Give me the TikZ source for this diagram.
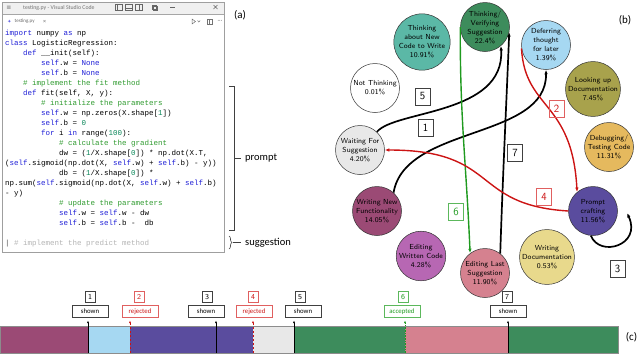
\documentclass[tikz,border=0pt]{standalone}
\usepackage{fontspec}
\newfontfamily\codefont{Liberation Mono}
\newfontfamily\calfont{Carlito}
\newfontfamily\symfont{DejaVu Sans}
\usetikzlibrary{arrows.meta,decorations.pathreplacing}
\definecolor{kwblue}{HTML}{1F1FD6}
\definecolor{cmgreen}{HTML}{2E9A2E}
\definecolor{numteal}{HTML}{098658}
\definecolor{sugg}{HTML}{B4B4B4}
\definecolor{cTNC}{HTML}{5BB8A6}
\definecolor{cTVS}{HTML}{3D8C5C}
\definecolor{cDFT}{HTML}{A6D8F2}
\definecolor{cLUD}{HTML}{A8A24C}
\definecolor{cWFS}{HTML}{E8E8E8}
\definecolor{cDTC}{HTML}{E5B95E}
\definecolor{cWNF}{HTML}{9B4A75}
\definecolor{cPC}{HTML}{5A4C9E}
\definecolor{cEWC}{HTML}{B767B3}
\definecolor{cELS}{HTML}{D5818F}
\definecolor{cWD}{HTML}{E8D98C}
\definecolor{rline}{HTML}{CC1414}
\definecolor{gline}{HTML}{1F9A1F}
\definecolor{rbox}{HTML}{E06060}
\definecolor{gbox}{HTML}{5CB85C}
\newcommand\kwd[1]{\textcolor{kwblue}{#1}}
\newcommand\cmt[1]{\textcolor{cmgreen}{#1}}
\newcommand\numc[1]{\textcolor{numteal}{#1}}
\begin{document}
\begin{tikzpicture}[x=1pt,y=-1pt,
  state/.style={circle,draw=black!80,line width=0.5pt,minimum size=49pt,inner sep=0pt,align=center,
    font=\sffamily\fontsize{7.3}{9}\selectfont},
  codeline/.style={anchor=base west,inner sep=0pt,font=\codefont\fontsize{7.5}{9}\selectfont},
  numbox/.style={draw=black!75,line width=0.7pt,minimum width=15pt,minimum height=17pt,inner sep=0pt,
    font=\sffamily\fontsize{11}{11}\selectfont},
  rnumbox/.style={numbox,draw=rbox,text=rline},
  gnumbox/.style={numbox,draw=gbox,text=gline},
  lblbox/.style={draw=black!75,line width=0.6pt,minimum width=36pt,minimum height=12pt,inner sep=0pt,
    font=\calfont\fontsize{6.8}{6.8}\selectfont},
  rlblbox/.style={lblbox,draw=rbox,text=rline},
  glblbox/.style={lblbox,draw=gbox,text=gline},
  snum/.style={draw=black!75,line width=0.6pt,minimum width=10pt,minimum height=11pt,inner sep=0pt,
    font=\sffamily\fontsize{7.5}{7.5}\selectfont},
  rsnum/.style={snum,draw=rbox,text=rline},
  gsnum/.style={snum,draw=gbox,text=gline},
  barseg/.style={draw=black!45,line width=0.4pt},
  blk/.style={line width=1.7pt,-{Latex[length=4.5pt,width=3.5pt]}},
  red/.style={rline,line width=1.4pt,-{Latex[length=4.5pt,width=3.5pt]}},
  grn/.style={gline,line width=1.4pt,-{Latex[length=4.5pt,width=3.5pt]}},
  tick/.style={-{Latex[length=2.5pt,width=2pt]}},
  lab/.style={font=\calfont\fontsize{11}{11}\selectfont,inner sep=0pt}
]
\useasboundingbox (0,0) rectangle (640,354);

% ---------- code window ----------
\fill[gray!12] (2,2) rectangle (224,14);
\draw[gray!70,line width=0.4pt] (2,14) -- (224,14);
\draw[gray!75,line width=0.8pt] (2,2) rectangle (224,252);
\node[inner sep=0pt,font=\symfont\fontsize{6}{6}\selectfont,text=black!60] (menu) at (9,7.5) {≡};
\node[anchor=west,inner sep=0pt,font=\calfont\fontsize{5.8}{6}\selectfont,text=black!55] (title) at (23,7.5) {testing.py - Visual Studio Code};
\begin{scope}[black!60,line width=0.5pt]
\draw (115,4.5) rectangle (122,10.5); \draw (117.5,4.5) -- (117.5,10.5);
\draw (125,4.5) rectangle (132,10.5); \draw (125,8.3) -- (132,8.3);
\draw (135,4.5) rectangle (142,10.5); \draw (139.5,4.5) -- (139.5,10.5);
\draw (152,5) rectangle (156,9); \draw (153.5,6.5) rectangle (157.5,10.5);
\draw (170,7.5) -- (175,7.5);
\draw (213.5,5) -- (217.5,9) (213.5,9) -- (217.5,5);
\end{scope}
\node[inner sep=0pt,font=\symfont\fontsize{5}{5}\selectfont,text=kwblue!70] (tabicon) at (9.5,21.5) {✦};
\node[anchor=west,inner sep=0pt,font=\calfont\fontsize{5}{5}\selectfont,text=black!60] (tabname) at (14.5,21.5) {testing.py};
\node[inner sep=0pt,font=\calfont\fontsize{6}{6}\selectfont,text=black!60] (tabx) at (44.5,21.5) {×};
\begin{scope}[black!55,line width=0.5pt]
\draw (192,19) -- (195.5,21.5) -- (192,24) -- cycle;
\draw (197.5,20.5) -- (198.8,22) -- (200.1,20.5);
\draw (207,19) rectangle (212,24); \draw (209.5,19) -- (209.5,24);
\end{scope}
\node[inner sep=0pt,font=\calfont\fontsize{6}{6}\selectfont,text=black!55] (dots) at (220,21) {···};

\node[codeline] (c0) at (5,35) {\kwd{import} numpy \kwd{as} np};
\node[codeline] (c1) at (5,45) {\kwd{class} LogisticRegression:};
\node[codeline] (c2) at (23,55) {\kwd{def} \_\_init(self):};
\node[codeline] (c3) at (41,65) {\kwd{self}.w = \kwd{None}};
\node[codeline] (c4) at (41,75) {\kwd{self}.b = \kwd{None}};
\node[codeline] (c5) at (23,85) {\cmt{\# implement the fit method}};
\node[codeline] (c6) at (23,95) {\kwd{def} fit(self, X, y):};
\node[codeline] (c7) at (41,105) {\cmt{\# initialize the parameters}};
\node[codeline] (c8) at (41,115) {\kwd{self}.w = np.zeros(X.shape[\numc{1}])};
\node[codeline] (c9) at (41,125) {\kwd{self}.b = \numc{0}};
\node[codeline] (c10) at (41,135) {\kwd{for} i \kwd{in} range(\numc{100}):};
\node[codeline] (c11) at (59,145) {\cmt{\# calculate the gradient}};
\node[codeline] (c12) at (59,155) {dw = (\numc{1}/X.shape[\numc{0}]) * np.dot(X.T,};
\node[codeline] (c13) at (5,165) {(\kwd{self}.sigmoid(np.dot(X, \kwd{self}.w) + \kwd{self}.b) - y))};
\node[codeline] (c14) at (59,175) {db = (\numc{1}/X.shape[\numc{0}]) *};
\node[codeline] (c15) at (5,185) {np.sum(\kwd{self}.sigmoid(np.dot(X, \kwd{self}.w) + \kwd{self}.b)};
\node[codeline] (c16) at (5,195) {- y)};
\node[codeline] (c17) at (59,205) {\cmt{\# update the parameters}};
\node[codeline] (c18) at (59,215) {\kwd{self}.w = \kwd{self}.w - dw};
\node[codeline] (c19) at (59,225) {\kwd{self}.b = \kwd{self}.b -~~db};
\node[codeline] (c21) at (5,245) {\textcolor{black!70}{|} \textcolor{sugg}{\# implement the predict method}};

% brackets
\node[anchor=west,inner ysep=0pt,inner xsep=4pt,font=\calfont\fontsize{10.5}{11}\selectfont] (prompt) at (241,158) {prompt};
\node[anchor=west,inner ysep=0pt,inner xsep=4pt,font=\calfont\fontsize{10.5}{11}\selectfont] (suggestion) at (241,242.5) {suggestion};
\draw[black!75,line width=0.6pt] (229,86) -- (234,86) -- (234,230) -- (229,230);
\draw[black!75,line width=0.6pt] (234,158) -- (prompt.west);
\draw[black!75,line width=0.6pt,decorate,decoration={brace,amplitude=3pt}] (229,236) -- (229,249);
\draw[black!75,line width=0.6pt] (233,242.5) -- (suggestion.west);

\node[lab] (la) at (240,15) {(a)};
\node[lab] (lb) at (625,20) {(b)};
\node[lab] (lc) at (631.5,337.5) {(c)};

% ---------- state graph ----------
\node[state,fill=cTNC] (tnc) at (422,42) {Thinking\\about New\\Code to Write\\10.91\%};
\node[state,fill=cTVS] (tvs) at (485,27) {Thinking/\\Verifying\\Suggestion\\22.4\%};
\node[state,fill=cDFT] (dft) at (546,45) {Deferring\\thought\\for later\\1.39\%};
\node[state,fill=white] (nth) at (375,88) {Not Thinking\\0.01\%};
\node[state,fill=cLUD] (lud) at (593,89) {Looking up\\Documentation\\7.45\%};
\node[state,fill=cWFS] (wfs) at (360,150) {Waiting For\\Suggestion\\4.20\%};
\node[state,fill=cDTC] (dtc) at (609,147) {Debugging/\\Testing Code\\11.31\%};
\node[state,fill=cWNF] (wnf) at (377,211) {Writing New\\Functionality\\14.05\%};
\node[state,fill=cPC] (pc) at (593,211) {Prompt\\crafting\\11.56\%};
\node[state,fill=cEWC] (ewc) at (421,256) {Editing\\Written Code\\4.28\%};
\node[state,fill=cELS] (els) at (485,273) {Editing Last\\Suggestion\\11.90\%};
\node[state,fill=cWD] (wd) at (547,257) {Writing\\Documentation\\0.53\%};

\coordinate (loopend) at (627,213);
\draw[blk] (wfs.47) .. controls (395,110) and (505,115) .. (tvs.-50);
\draw[blk] (wnf.48) .. controls (405,125) and (547,140) .. (dft.-90);
\draw[blk] (els.52) .. controls (503,170) and (507,90) .. (tvs.-12);
\draw[grn] (tvs.180) .. controls (460,120) and (466,160) .. (els.127);
\draw[red] (dft.-172) .. controls (525,110) and (572,100) .. (pc.130);
\draw[red] (pc.180) .. controls (470,205) and (500,150) .. (wfs.0);
\draw[blk] (pc.-95) .. controls (600,258) and (642,245) .. (loopend);

\node[numbox] (n5) at (422.5,96.5) {5};
\node[numbox] (n1) at (425.5,128) {1};
\node[rnumbox] (n2) at (556.5,109) {2};
\node[numbox] (n7) at (515,152.5) {7};
\node[rnumbox] (n4) at (544,196.5) {4};
\node[gnumbox] (n6) at (456,211.5) {6};
\node[numbox] (n3) at (617.5,268.5) {3};

% ---------- timeline ----------
\fill[cWNF] (0,326) rectangle (88,353);
\fill[cDFT] (88,326) rectangle (130,353);
\fill[cPC] (130,326) rectangle (253,353);
\fill[cWFS] (253,326) rectangle (294,353);
\fill[cTVS] (294,326) rectangle (405,353);
\fill[cELS] (405,326) rectangle (508,353);
\fill[cTVS] (508,326) rectangle (618,353);
\draw[barseg] (0,326) rectangle (618,353);

\foreach \i/\x in {1/88,2/130,3/216,4/253,5/294,6/405,7/508}{
  \coordinate (bb\i) at (\x,353);
  \coordinate (bt\i) at (\x,320.5);
}
\draw[tick,black,line width=0.8pt] (bb1) -- (bt1);
\draw[tick,rline,line width=0.8pt,dash pattern=on 2.5pt off 1.5pt] (bb2) -- (bt2);
\draw[tick,black,line width=0.8pt] (bb3) -- (bt3);
\draw[tick,rline,line width=0.8pt,dash pattern=on 2.5pt off 1.5pt] (bb4) -- (bt4);
\draw[tick,black,line width=0.8pt] (bb5) -- (bt5);
\draw[tick,gline,line width=0.8pt,dash pattern=on 0.8pt off 0.8pt] (bb6) -- (bt6);
\draw[tick,black,line width=0.8pt] (bb7) -- (bt7);

\node[lblbox] (l1) at (90,311.5) {shown};
\node[rlblbox] (l2) at (140,311.5) {rejected};
\node[lblbox] (l3) at (206,311.5) {shown};
\node[rlblbox] (l4) at (254,311.5) {rejected};
\node[lblbox] (l5) at (303,311.5) {shown};
\node[glblbox] (l6) at (402,311.5) {accepted};
\node[lblbox] (l7) at (508,311.5) {shown};

\node[snum] (s1) at (90,297) {1};
\node[rsnum] (s2) at (139,297) {2};
\node[snum] (s3) at (207,297) {3};
\node[rsnum] (s4) at (253,297) {4};
\node[snum] (s5) at (300,297) {5};
\node[gsnum] (s6) at (403,297) {6};
\node[snum] (s7) at (507,297) {7};
\end{tikzpicture}
\end{document}
